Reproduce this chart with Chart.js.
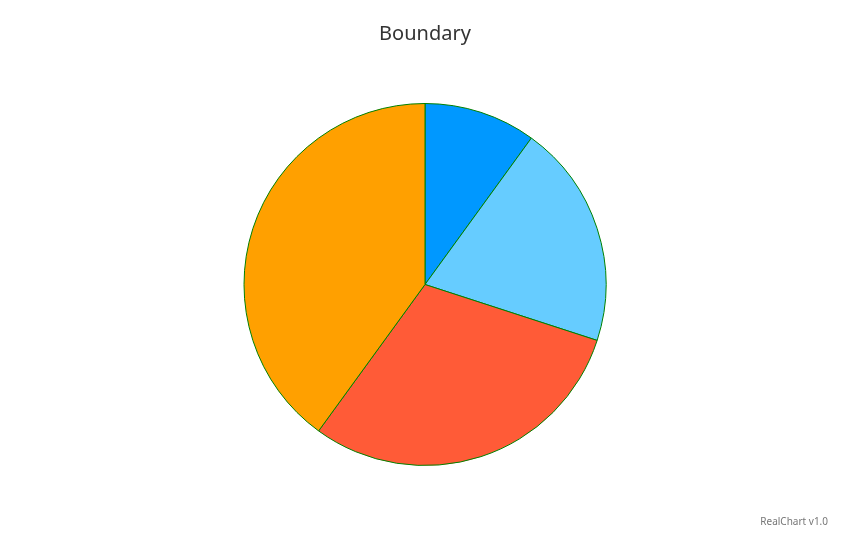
<!DOCTYPE html>
<html>
<head>
<meta charset="utf-8">
<script src="https://cdn.jsdelivr.net/npm/chart.js@4/dist/chart.umd.min.js"></script>
<style>
  html, body { margin: 0; padding: 0; background: #fff; }
  #wrap { position: relative; width: 850px; height: 550px; }
  #credit { position: absolute; right: 22px; top: 514px; font: 10px "Noto Sans", sans-serif; color: #777; }
</style>
</head>
<body>
<div id="wrap">
  <canvas id="c" width="850" height="550"></canvas>
  <div id="credit">RealChart v1.0</div>
</div>
<script>
const categories = ["A", "B", "C", "D"];
const values = [10, 20, 30, 40];
const sliceColors = ["#0098FF", "#66CCFF", "#FF5B37", "#FFA000"];
const titleText = "Boundary";

new Chart(document.getElementById("c"), {
  type: "pie",
  data: {
    labels: categories,
    datasets: [{
      data: values,
      backgroundColor: sliceColors,
      borderColor: "#008000",
      borderWidth: 1
    }]
  },
  options: {
    responsive: false,
    animation: false,
    layout: { padding: { top: 0, bottom: 84, left: 0, right: 0 } },
    plugins: {
      legend: { display: false },
      tooltip: { enabled: false },
      title: {
        display: true,
        text: titleText,
        color: "#333",
        font: { family: "'Noto Sans', sans-serif", size: 20, weight: "normal" },
        padding: { top: 22, bottom: 57 }
      }
    }
  }
});
</script>
</body>
</html>
